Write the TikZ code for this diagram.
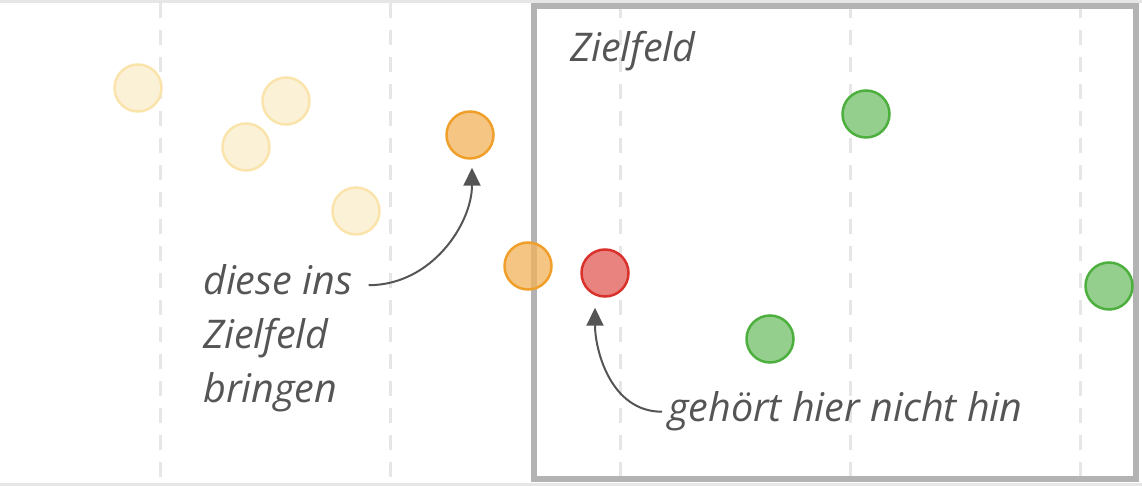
\documentclass[tikz,border=0pt]{standalone}
\usepackage{fontspec}
\setmainfont{Open Sans}
\usepackage{xcolor}
\usetikzlibrary{positioning,arrows.meta}
\definecolor{fadefill}{HTML}{FBF1D6}
\definecolor{fadeline}{HTML}{FAE4AC}
\definecolor{movefill}{HTML}{F2B25B}
\definecolor{moveline}{HTML}{EF9F2A}
\definecolor{wrongfill}{HTML}{E9837F}
\definecolor{wrongline}{HTML}{D9322C}
\definecolor{goodfill}{HTML}{95CF8E}
\definecolor{goodline}{HTML}{4DAF3E}
\definecolor{framegray}{HTML}{B3B3B3}
\definecolor{gridgray}{HTML}{E6E6E6}
\definecolor{ink}{HTML}{555555}

\begin{document}
\begin{tikzpicture}[x=1pt, y=1pt,
        dot/.style={circle, minimum size=47pt, inner sep=0pt, line width=2.5pt},
        faded/.style={dot, draw=fadeline, fill=fadefill},
        moving/.style={dot, draw=moveline, fill=movefill, fill opacity=0.75},
        wrong/.style={dot, draw=wrongline, fill=wrongfill},
        inside/.style={dot, draw=goodline, fill=goodfill},
        note/.style={font=\fontsize{39.5}{46}\selectfont\itshape, text=ink, inner sep=0pt, anchor=base west},
        pointer/.style={-{Triangle[length=18pt, width=17pt]}, line width=2pt, draw=ink}]
        \useasboundingbox (0,0) rectangle (1142,486);
        \fill[gridgray] (0,483) rectangle (1142,486);
        \fill[gridgray] (0,0) rectangle (1142,3);
        \foreach \x in {160,390,620,850,1080}
            \draw[gridgray, line width=3pt, dash pattern=on 15pt off 12pt] (\x,483) -- (\x,3);
        \draw[framegray, line width=5.5pt] (534,7) rectangle (1136,480);
        
        \node[faded] (f1) at (138,398) {};
        \node[faded] (f2) at (286,385) {};
        \node[faded] (f3) at (246,339) {};
        \node[faded] (f4) at (356,275) {};
        \node[moving] (o1) at (470,351) {};
        \node[moving] (o2) at (528,220) {};
        \node[wrong] (r1) at (605,213) {};
        \node[inside] (g1) at (866,372) {};
        \node[inside] (g2) at (770,147) {};
        \node[inside] (g3) at (1109,200) {};
        
        \node[note] (zone) at (570,424) {Zielfeld};
        \node[note] (hint1) at (203,191) {diese ins};
        \node[note, below=54pt of hint1.base west, anchor=base west] (hint2) {Zielfeld};
        \node[note, below=54pt of hint2.base west, anchor=base west] (hint3) {bringen};
        \node[note] (wrongnote) at (668,64) {gehört hier nicht hin};
        
        \draw[pointer, shorten >=8pt] ([xshift=16pt, yshift=-5pt]hint1.east) to[out=0, in=-90] ([xshift=2pt]o1.south);
        \draw[pointer, shorten >=10pt] ([xshift=-6pt]wrongnote.west) to[out=180, in=-90] ([xshift=-10pt]r1.south);
    \end{tikzpicture}
\end{document}
